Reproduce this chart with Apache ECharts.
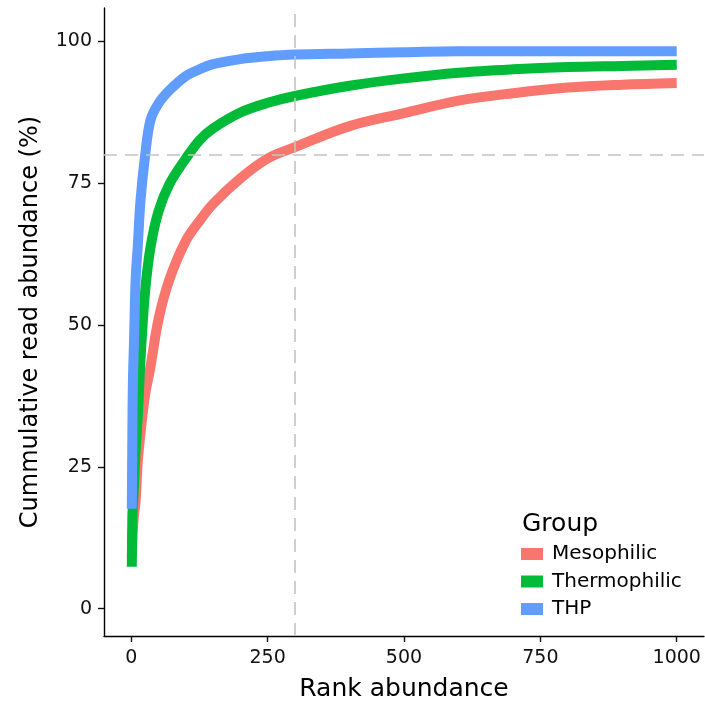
<!DOCTYPE html>
<html>
<head>
<meta charset="utf-8">
<script src="https://cdn.jsdelivr.net/npm/echarts@6/dist/echarts.min.js"></script>
<style>
  html, body { margin: 0; padding: 0; background: #fff; }
  #rankChart { width: 705px; height: 707px; }
</style>
</head>
<body>
<div id="rankChart"></div>
<script>
// rank positions
const ranks = [1, 2, 3, 5, 8, 12, 17, 25, 35, 50, 70, 100, 125, 150, 200, 250, 300, 400, 500, 600, 700, 800, 900, 1000];
// cumulative read abundance (%) per group
const mesophilic   = [9, 12, 14, 16.5, 19, 26, 31, 37.5, 42.5, 51, 58, 64.8, 68.3, 71.3, 75.8, 79.3, 81.3, 85, 87.3, 89.5, 90.8, 91.8, 92.3, 92.6];
const thermophilic = [7.4, 16.5, 18, 22, 28, 34, 44, 55.5, 63.5, 70, 74.8, 79.3, 82.5, 84.6, 87.4, 89.1, 90.3, 92.1, 93.4, 94.4, 95, 95.4, 95.6, 95.8];
const thp          = [17.6, 31, 40, 47, 58, 64, 72, 79.5, 86, 89, 91.3, 93.8, 95, 95.9, 96.8, 97.3, 97.6, 97.8, 98, 98.2, 98.2, 98.2, 98.2, 98.2];

const groups = ['Mesophilic', 'Thermophilic', 'THP'];
const groupColors = ['#F8766D', '#00BA38', '#619CFF'];
const xTicks = [0, 250, 500, 750, 1000];
const yTicks = [0, 25, 50, 75, 100];
const refRank = 300;   // vertical dashed line
const refAbund = 80;   // horizontal dashed line

const pairs = vals => ranks.map((r, i) => [r, vals[i]]);
const FONT = 'DejaVu Sans';

const chart = echarts.init(document.getElementById('rankChart'));

function curve(name, vals, color) {
  return {
    name: name,
    type: 'line',
    data: pairs(vals),
    showSymbol: false,
    smooth: 0.35,
    color: color,
    lineStyle: { width: 10, cap: 'butt', join: 'round', color: color },
    emphasis: { disabled: true },
    animation: false
  };
}

chart.setOption({
  backgroundColor: '#fff',
  animation: false,
  title: {
    text: 'Group',
    left: 517, top: 507,
    textStyle: { fontFamily: FONT, fontSize: 25, fontWeight: 'normal', color: '#000' }
  },
  legend: {
    data: groups,
    orient: 'vertical',
    left: 516, top: 539,
    icon: 'rect',
    itemWidth: 22, itemHeight: 12,
    itemGap: 7.5,
    textStyle: { fontFamily: FONT, fontSize: 20, lineHeight: 20, color: '#000', padding: [0, 0, 0, 4] },
    selectedMode: false
  },
  grid: { left: 104, right: 1, top: 8, bottom: 71, containLabel: false },
  xAxis: {
    type: 'value',
    min: -50, max: 1050,
    name: 'Rank abundance',
    nameLocation: 'middle',
    nameGap: 41,
    nameTextStyle: { fontFamily: FONT, fontSize: 25, color: '#000' },
    axisLine: { onZero: false, lineStyle: { color: '#000', width: 1.4 } },
    axisTick: { show: true, length: 6, customValues: xTicks, lineStyle: { color: '#111', width: 1.4 } },
    axisLabel: {
      customValues: xTicks, margin: 13,
      fontFamily: FONT, fontSize: 19, color: '#111',
      formatter: v => String(v)
    },
    splitLine: { show: false }
  },
  yAxis: {
    type: 'value',
    min: -4.8, max: 105.8,
    name: 'Cummulative read abundance (%)',
    nameLocation: 'middle',
    nameGap: 61,
    nameTextStyle: { fontFamily: FONT, fontSize: 24, color: '#000' },
    axisLine: { show: true, onZero: false, lineStyle: { color: '#000', width: 1.4 } },
    axisTick: { show: true, length: 6, customValues: yTicks, lineStyle: { color: '#111', width: 1.4 } },
    axisLabel: {
      customValues: yTicks, margin: 12,
      fontFamily: FONT, fontSize: 19, color: '#111',
      formatter: v => String(v)
    },
    splitLine: { show: false }
  },
  series: [
    curve(groups[0], mesophilic, groupColors[0]),
    curve(groups[1], thermophilic, groupColors[1]),
    curve(groups[2], thp, groupColors[2]),
    {
      name: 'ref',
      type: 'line',
      data: [],
      z: 10,
      silent: true,
      markLine: {
        silent: true,
        symbol: 'none',
        label: { show: false },
        lineStyle: { color: '#c4c4c4', type: [13, 8], width: 1.6 },
        data: [{ xAxis: refRank }, { yAxis: refAbund }]
      }
    }
  ]
});
</script>
</body>
</html>
